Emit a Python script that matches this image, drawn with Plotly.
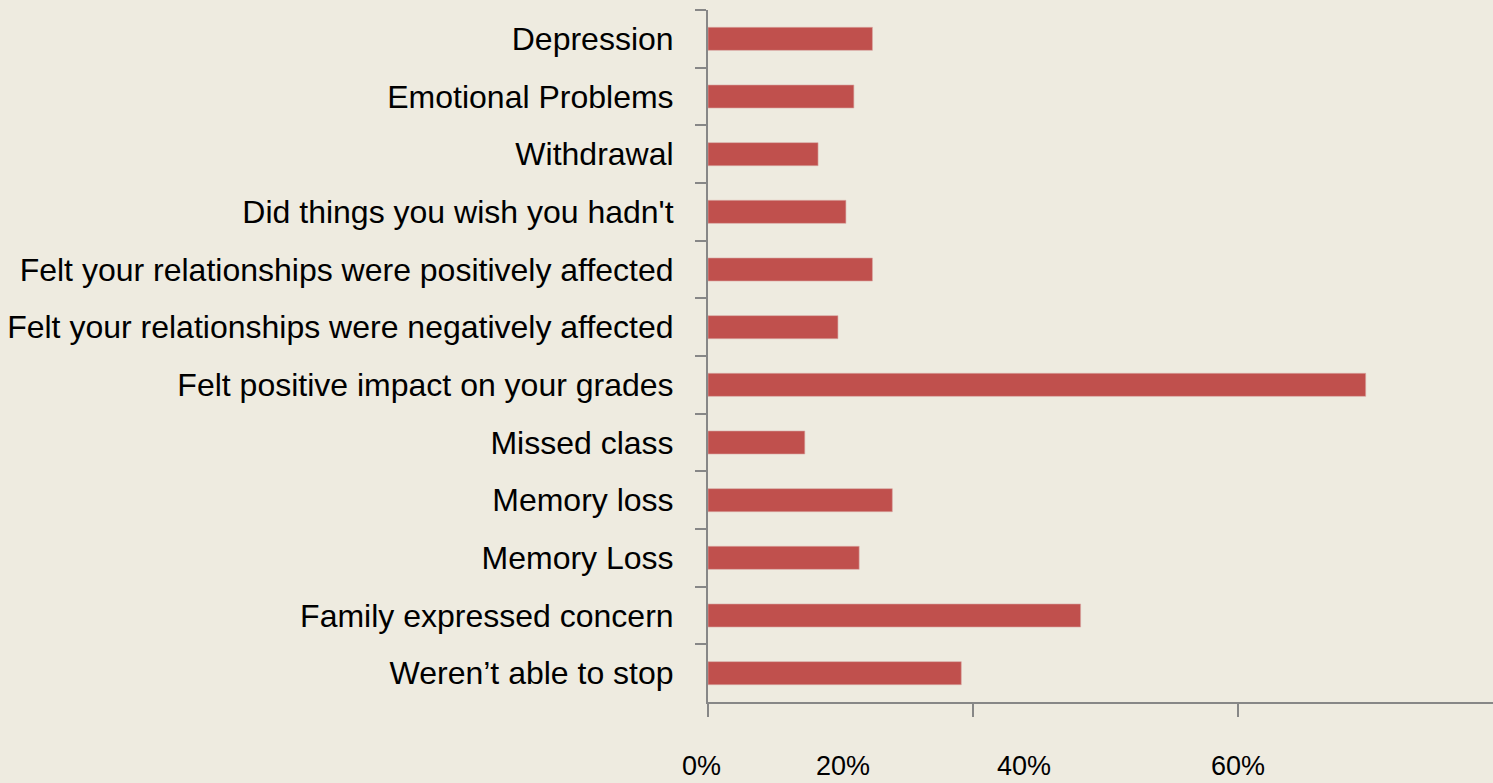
import plotly.graph_objects as go

categories = [
    "Depression",
    "Emotional Problems",
    "Withdrawal",
    "Did things you wish you hadn't",
    "Felt your relationships were positively affected",
    "Felt your relationships were negatively affected",
    "Felt positive impact on your grades",
    "Missed class",
    "Memory loss",
    "Memory Loss",
    "Family expressed concern",
    "Weren\u2019t able to stop",
]
values = [12.4, 11.0, 8.3, 10.4, 12.4, 9.8, 49.6, 7.3, 13.9, 11.4, 28.1, 19.1]

x_max = 59.2
x_tick_vals = [0, 20, 40]
x_label_text = ["0%", "20%", "40%", "60%"]
x_label_pos = [-0.5, 10.2, 23.8, 40.0]

bg = "#EEEBE0"
axis_col = "#878787"
font_family = "Liberation Sans, Arial, sans-serif"

fig = go.Figure(
    go.Bar(
        x=values,
        y=categories,
        orientation="h",
        marker=dict(color="#C0504D", line=dict(color="#D9A7A5", width=0.6)),
        hoverinfo="x+y",
    )
)

fig.update_layout(
    width=1493,
    height=783,
    margin=dict(l=708, r=0, t=10, b=81),
    paper_bgcolor=bg,
    plot_bgcolor=bg,
    bargap=0.6,
    showlegend=False,
    font=dict(family=font_family, color="#000000"),
)

fig.update_yaxes(
    type="category",
    autorange="reversed",
    showline=True,
    linecolor=axis_col,
    linewidth=2,
    ticks="outside",
    tickson="boundaries",
    ticklen=11,
    tickwidth=2,
    tickcolor=axis_col,
    showgrid=False,
    zeroline=False,
    tickfont=dict(size=32, color="#000000"),
    ticklabelstandoff=26,
)

fig.update_xaxes(
    range=[0, x_max],
    tickvals=x_tick_vals,
    showticklabels=False,
    showline=True,
    linecolor=axis_col,
    linewidth=2,
    ticks="outside",
    ticklen=13,
    tickwidth=2,
    tickcolor=axis_col,
    showgrid=False,
    zeroline=False,
)

for pos, txt in zip(x_label_pos, x_label_text):
    fig.add_annotation(
        x=pos / x_max,
        xref="paper",
        y=0,
        yref="paper",
        yshift=-64,
        yanchor="middle",
        xanchor="center",
        text=txt,
        showarrow=False,
        font=dict(size=27, color="#000000", family=font_family),
    )

fig.write_html(
    "out.html",
    config={"displayModeBar": False},
    post_script="document.body.style.margin='0';document.body.style.background='#EEEBE0';",
)
